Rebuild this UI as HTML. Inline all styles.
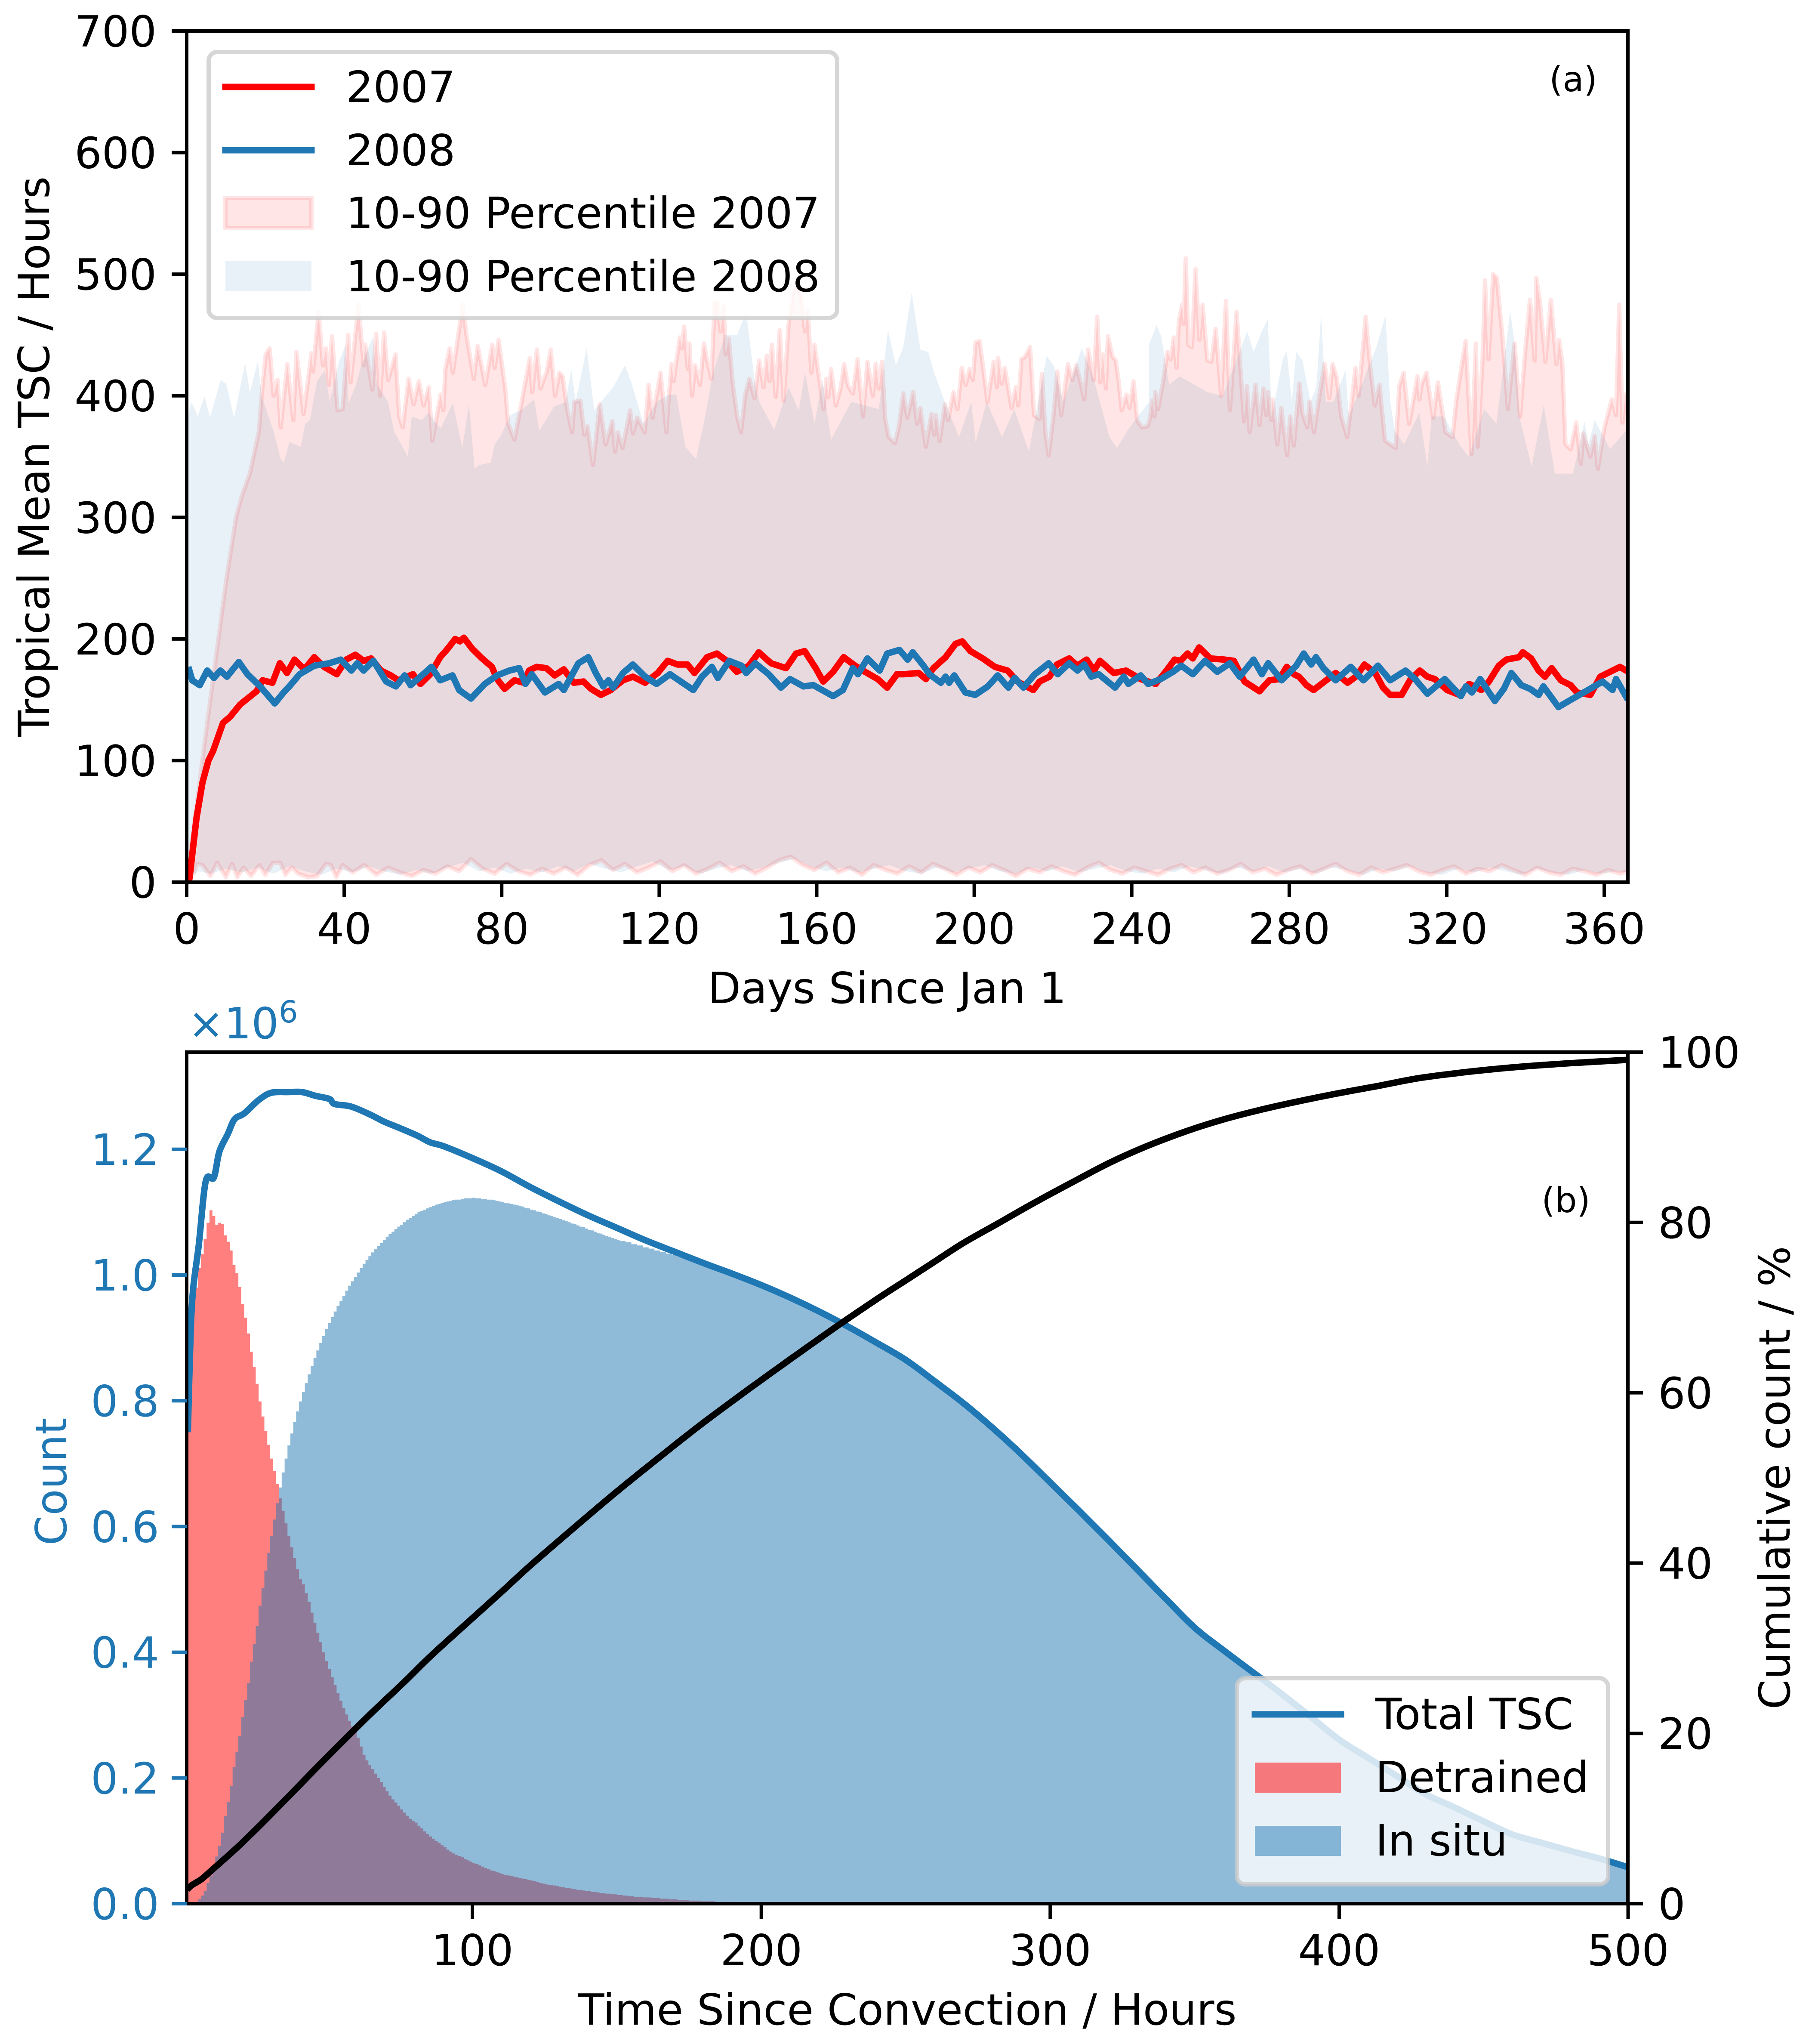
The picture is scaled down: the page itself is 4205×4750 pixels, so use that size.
<!DOCTYPE html>
<html lang="en">
<head>
<meta charset="utf-8">
<title>Tropical Mean TSC chart</title>
<style>
html,body{margin:0;padding:0;background:#fff;}
svg{display:block;}
text{font-family:"DejaVu Sans","Liberation Sans",sans-serif;font-size:100px;fill:#000;}
</style>
</head>
<body>
<svg id="chart" xmlns="http://www.w3.org/2000/svg" width="4205" height="4750" viewBox="0 0 4205 4750">
  <defs>
    <clipPath id="clipA"><rect x="434" y="72" width="3350" height="1978"/></clipPath>
    <clipPath id="clipB"><rect x="434" y="2445" width="3350" height="1979"/></clipPath>
  </defs>
  <rect x="0" y="0" width="4205" height="4750" fill="#fff"/>

  <g id="panelA">
    <g id="marksA" clip-path="url(#clipA)"></g>
    <rect x="434" y="72" width="3350" height="1978" fill="none" stroke="#000" stroke-width="8"/>
    <g id="ticksA"></g>
    <text x="2062" y="2331" text-anchor="middle">Days Since Jan 1</text>
    <text transform="translate(114,1061) rotate(-90)" text-anchor="middle">Tropical Mean TSC / Hours</text>
    <text x="3657" y="212" text-anchor="middle" style="font-size:80px">(a)</text>
    <g>
      <rect x="485" y="121" width="1461" height="618" rx="20" ry="20" fill="#fff" fill-opacity="0.8" stroke="#ccc" stroke-opacity="0.8" stroke-width="10"/>
      <line x1="524" y1="202" x2="724" y2="202" stroke="#ff0000" stroke-width="15" stroke-linecap="square"/>
      <text x="804" y="237">2007</text>
      <line x1="524" y1="349" x2="724" y2="349" stroke="#1f77b4" stroke-width="15" stroke-linecap="square"/>
      <text x="804" y="384">2008</text>
      <rect x="524" y="460" width="200" height="70" fill="#ff0000" fill-opacity="0.1" stroke="#ff0000" stroke-opacity="0.1" stroke-width="10"/>
      <text x="804" y="530">10-90 Percentile 2007</text>
      <rect x="524" y="607" width="200" height="70" fill="#1f77b4" fill-opacity="0.1"/>
      <text x="804" y="677">10-90 Percentile 2008</text>
    </g>
  </g>

  <g id="panelB">
    <g id="marksB" clip-path="url(#clipB)"></g>
    <rect x="434" y="2445" width="3350" height="1979" fill="none" stroke="#000" stroke-width="8"/>
    <g id="ticksB"></g>
    <text x="2109" y="4705" text-anchor="middle">Time Since Convection / Hours</text>
    <text transform="translate(154,3443) rotate(-90)" text-anchor="middle" style="fill:#1f77b4">Count</text>
    <text transform="translate(4160,3434) rotate(-90)" text-anchor="middle">Cumulative count / %</text>
    <text x="3640" y="2817" text-anchor="middle" style="font-size:80px">(b)</text>
    <text x="437" y="2413" style="fill:#1f77b4">×10<tspan dy="-37" style="font-size:70px;fill:#1f77b4">6</tspan></text>
    <g id="legendB">
      <rect x="2875" y="3900" width="863" height="479" rx="20" ry="20" fill="#fff" fill-opacity="0.8" stroke="#ccc" stroke-opacity="0.8" stroke-width="10"/>
      <line x1="2917" y1="3984" x2="3117" y2="3984" stroke="#1f77b4" stroke-width="15" stroke-linecap="square"/>
      <text x="3197" y="4018">Total TSC</text>
      <rect x="2917" y="4096" width="200" height="70" fill="#ff0000" fill-opacity="0.5"/>
      <text x="3197" y="4165">Detrained</text>
      <rect x="2917" y="4243" width="200" height="70" fill="#1f77b4" fill-opacity="0.5"/>
      <text x="3197" y="4312">In situ</text>
    </g>
  </g>
</svg>

<script>
// ---------- Panel (a) data: [day, hours] ----------
const p90_2007 = [[0,0],[2,50],[4.2,106],[7,175],[10,248],[12.5,300],[14,318],[16,336],[18.3,371],[19,401],[20,434],[21,439],[22,400],[23,413],[23.8,374],[25.5,426],[27,380],[27.8,436],[29.6,385],[31.6,435],[32,420],[33.4,469],[34.5,425],[35.3,439],[36,409],[36.8,449],[38.2,388],[39.5,389],[40.9,450],[41.5,411],[43.5,475],[44.8,425],[45.2,442],[47,405],[48,451],[49,400],[50,452],[51,413],[52.9,434],[53.8,383],[54.7,374],[56.2,414],[57.5,393],[58.8,412],[60,392],[61.3,407],[62.2,363],[64.3,401],[65,388],[65.5,422],[66.6,439],[67.4,419],[69.9,475],[70.9,449],[72.7,414],[73.7,441],[75.6,409],[77.4,442],[78,423],[79,446],[80.7,405],[81.4,377],[83,364],[84.5,389],[86.9,431],[87.5,403],[88.7,438],[89.6,406],[91.2,420],[92.2,438],[93.3,400],[94.4,419],[95.2,416],[96.4,388],[97.6,370],[98.2,395],[99.7,396],[100.7,368],[101.5,375],[102.9,343],[104.6,393],[106.1,360],[107.8,379],[108.5,354],[109.2,370],[110.4,357],[112.3,388],[113,369],[114.1,382],[116,370],[117,409],[118,382],[120,419],[121.5,370],[122,395],
[122.8,426],[123.3,412],[124.9,448],[125.4,439],[126,457],[126.9,422],[127.3,443],[128,400],[128.8,425],[130,409],[131,443],[131.8,429],[132.9,414],[133.7,477],[134.4,477],[135.2,453],[136,474],[136.5,434],[137.3,447],[138.3,410],[139.4,383],[140.4,370],[141.4,400],[142.5,414],[143.8,398],[145,429],[146.1,407],[146.9,433],[147.6,412],[148.2,442],[149.2,399],[150.2,454],[151.2,396],[152.4,458],[153.5,484],[154.3,492],[155.5,485],[156.6,453],[157.3,471],[158.2,419],[159,442],[160.1,416],[161.3,389],[162,414],[162.5,399],[163.2,422],[164.4,392],[165.6,406],[166.5,426],[167.5,408],[168.7,402],[169.9,430],[171.3,383],[172.4,428],[173.8,400],[174.5,426],[175.3,406],[176.1,428],[176.9,381],[177.8,366],[179.4,361],[180.4,375],[181.5,402],[182.5,382],[184,403],[185,377],[185.8,390],[187.2,358],[188.6,385],[189.3,368],[189.7,384],[190.7,363],[192,393],[192.8,380],[194.2,403],[195.2,389],[196.3,423],[197.3,409],[198.3,422],[199.1,413],[199.8,444],[200.8,445],[201.6,426],[202.8,395],[204.4,428],[205.2,407],[205.5,431],[206.4,410],[207.2,423],[208.9,390],[210,407],[210.6,392],[211.4,430],[212.3,432],[213.6,440],[214.6,384],[216,381],[216.6,418],[217.5,369],[218.3,351],[219.5,383],[220.5,420],[221.5,384],[223.2,426],[224.3,413],[225.3,425],[226.3,412],[227.3,397],[228.3,438],[229.7,413],[230.6,465],[231.4,411],[232,434],[232.8,406],[233.3,449],[234.5,432],[235.3,429],[236,413],[236.8,388],[238,401],[238.8,390],[239.8,412],[240.7,380],[241.9,374],[243.4,375],
[244,382],[244.5,396],[245.1,383],[245.3,403],[246,389],[247.2,410],[248.4,436],[249.2,430],[250,448],[250.7,423],[251.3,462],[252.1,475],[252.5,459],[253,513],[253.7,442],[254.6,440],[255.5,504],[256.5,446],[257.3,475],[258.5,429],[259.5,428],[260.6,455],[262,400],[263.2,478],[264.2,388],[265.9,469],[266.9,421],[267.8,379],[268.5,408],[269.2,370],[270.7,409],[271.7,376],[272.7,406],[273.4,384],[273.8,403],[274.7,380],[275,397],[276.2,360],[277.2,390],[278.7,351],[279.5,383],[280.4,359],[281.8,410],[282.6,385],[283.8,374],[284.4,395],[285.5,370],[286.9,401],[288.2,426],[289.4,398],[290.2,426],[291.2,416],[292.4,383],[293.9,366],[295.1,396],[296,423],[296.8,400],[298.6,465],[299.8,422],[300.9,392],[302.1,409],[303.5,363],[304.8,360],[306.2,357],[307.1,408],[308.2,419],[309.6,377],[310.6,395],[311.7,416],[312.2,397],[312.8,410],[314,419],[315.7,382],[316.9,411],[318.8,370],[320.6,366],[321.5,395],[323.1,429],[323.9,445],[325.4,352],[326.5,443],[327,358],[328.2,430],[328.8,495],[329.7,430],[330.9,500],[331.8,497],[333.2,450],[334.6,389],[336.3,443],[337.7,383],[339,437],[340.2,479],[341.4,429],[341.8,497],[342.7,478],[344.1,428],[345.5,479],[346.9,426],[347.6,446],[348.4,427],[349.2,360],[350.5,356],[351.9,378],[353.1,344],[353.7,369],[355.5,350],[356.6,367],[357.4,340],[359,373],[360.9,397],[362,384],[362.8,475],[363.6,378],[364.4,401],[365,395]];

const p10_2007 = [[0,0],[1.7,7],[2.7,15],[4,14],[6,5],[7.7,16],[9.9,4],[11.5,15],[12.8,4],[14.4,12],[16.3,5],[18.4,14],[19.9,6],[21.9,16],[23.7,16],[25,6],[26.6,12],[28.2,7],[30.8,4],[33,5],[35.3,15],[36.5,14],[37.9,4],[39.5,14],[42,8],[45,14],[48,6],[51,12],[54,8],[57,5],[60,10],[63,7],[66,13],[69,9],[72,19],[75,11],[78,7],[81,15],[84,9],[87,6],[90,11],[93,7],[96,12],[99,6],[102,14],[105,18],[108,10],[111,15],[114,8],[117,12],[120,17],[123,9],[126,14],[129,7],[132,11],[135,16],[138,9],[141,13],[144,7],[147,12],[150,18],[153,21],[156,14],[159,10],[162,16],[165,8],[168,12],[171,6],[174,14],[177,10],[180,7],[183,13],[186,8],[189,15],[192,11],[195,6],[198,12],[201,8],[204,14],[207,10],[210,5],[213,11],[216,8],[219,13],[222,9],[225,6],[228,12],[231,16],[234,10],[237,7],[240,12],[243,9],[246,6],[249,11],[252,14],[255,8],[258,12],[261,7],[264,10],[267,15],[270,8],[273,11],[276,6],[279,10],[282,13],[285,7],[288,11],[291,15],[294,9],[297,6],[300,12],[303,8],[306,11],[309,14],[312,9],[315,6],[318,10],[321,13],[324,7],[327,11],[330,9],[333,14],[336,10],[339,6],[342,12],[345,8],[348,6],[351,11],[354,9],[357,6],[360,10],[363,7],[365,9]];

const p90_2008 = [[0,380],[1.2,395],[2.8,383],[4.5,400],[5.9,382],[8.6,413],[10,410],[12,382],[14.8,427],[16,403],[18,428],[19,400],[20.7,383],[22,371],[23.8,348],[24.6,345],[26,362],[28.9,358],[30,377],[31.2,380],[33,412],[35,421],[36.2,395],[38.6,428],[40.2,442],[41,394],[42.9,409],[44,423],[47.2,449],[48.2,409],[51,395],[52.5,371],[55,356],[56,350],[57,383],[59.6,380],[61.2,386],[64.3,373],[67.4,394],[69.8,357],[71.5,393],[72.9,340],[74,343],[77,345],[78,360],[79.5,367],[82,384],[85,389],[88,397],[89.3,371],[93,391],[96,395],[97.4,422],[98.5,395],[101.3,439],[103.2,388],[108,407],[111,425],[112.7,410],[115.7,377],[119,395],[122,401],
[124,401],[126.3,358],[129,348],[131.3,383],[133.3,419],[136.4,450],[139.4,450],[141.7,469],[143.8,413],[145,395],[148.8,372],[152.4,407],[155,388],[156.6,419],[159,377],[161,413],[163.2,364],[168.3,395],[175.3,389],[177.6,454],[179.6,425],[181.5,440],[183.6,485],[185.8,438],[187.8,436],[189.3,419],[192,395],[195.6,366],[198.7,395],[199.8,362],[202.6,395],[206.5,366],[209.6,389],[213.3,354],[217.8,433],[219.7,424],[222,395],[226.7,439],[229.8,413],[233.7,366],[235.6,357],[238.4,372],[243.7,395],
[243.7,442],[245.6,458],[246.8,449],[248.8,409],[251.5,416],[258.5,403],[262.4,400],[268.6,453],[270.2,436],[272.3,453],[273.8,463],[274.8,383],[277.6,430],[278.6,437],[279.9,395],[281,436],[282.6,429],[284.6,395],[286.1,407],[287.3,467],[288.5,395],[290.4,395],[293.5,421],[294.3,383],[296.6,401],[301.3,440],[303.6,466],[304.8,395],[306,371],[308.3,360],[312.2,386],[314.2,342],[315.3,383],[318.4,383],[322.3,360],[324.7,350],[328.6,389],[331.7,377],[335.2,470],[336.3,443],[337.5,383],[340.6,342],[343.7,392],[346.5,336],[351.1,336],[354,379],[355,360],[356.6,380],[360.5,356],[364.4,371],[365,375]];

const p10_2008 = [[0,1],[3,9],[6,7],[10,11],[14,8],[18,12],[22,7],[26,13],[30,9],[34,6],[38,11],[42,8],[46,13],[50,9],[54,6],[58,10],[62,7],[66,12],[70,16],[74,9],[78,12],[82,7],[86,11],[90,8],[94,13],[98,9],[102,15],[106,11],[110,8],[114,13],[118,17],[122,10],[126,13],[130,7],[134,11],[138,14],[142,9],[146,12],[150,16],[154,19],[158,13],[162,9],[166,12],[170,8],[174,11],[178,14],[182,9],[186,7],[190,12],[194,8],[198,11],[202,14],[206,9],[210,7],[214,12],[218,9],[222,13],[226,8],[230,11],[234,14],[238,9],[242,7],[246,11],[250,8],[254,13],[258,10],[262,7],[266,12],[270,9],[274,13],[278,8],[282,11],[286,7],[290,12],[294,10],[298,6],[302,11],[306,9],[310,13],[314,8],[318,6],[322,11],[326,8],[330,12],[334,9],[338,6],[342,11],[346,8],[350,6],[354,10],[358,7],[362,9],[365,8]];

const mean_2007 = [[0,0],[0.7,3],[2.5,53],[4,82],[5.5,100],[6.7,108],[9.2,131],[11,136],[13.5,146],[15.4,151],[17.7,157],[19.2,166],[21.7,164],[23.6,180],[25.4,172],[27.3,183],[29.8,175],[32.3,185],[34.8,177],[38,171],[40.4,183],[42.7,187],[44.8,182],[46.7,184],[49.2,174],[51.7,170],[53.6,166],[57.3,171],[59.2,163],[61.7,171],[64.2,185],[66.1,192],[68,200],[69.2,198],[70.2,201],[72.3,192],[74.8,184],[77.3,177],[78.6,167],[80.5,159],[83,166],[85.4,164],[86.7,174],[88.6,177],[91.1,176],[93.2,170],[95.5,175],[98,164],[100.5,165],[102.4,159],[104.9,154],[107.4,158],[110.5,166],[113,169],[116.1,164],[119.3,172],[121.8,182],[124.3,179],[126.8,179],[128.6,172],[131.8,185],[134.3,188],[136.8,182],[139.3,173],[142.4,178],[144.9,189],[148,180],[151.8,176],[154.3,188],[156.5,190],[159.3,176],[161.2,165],[163.7,173],[166.4,185],[169.3,178],[171.8,173],[175,167],[177.4,160],[179.9,171],[181.6,171],[185.4,172],[187.2,167],[189.1,176],[192.2,185],[194.7,196],[196.4,198],[198.5,190],[201.6,184],[204.7,177],[207.9,174],[210.4,165],[214.4,158],[216,165],[218.5,169],[220.4,179],[223.5,184],[225.6,178],[227.9,183],[229.8,174],[231.3,182],[234.8,172],[237.9,174],[241.6,167],[245.4,163],[247.9,173],[250.2,183],[251.7,182],[253.5,188],[254.8,184],[256.4,193],[259.2,184],[262.9,183],[265.2,182],[267.9,165],[271.7,157],[274.2,166],[276.7,167],[278.6,177],[280.4,171],[281.7,169],[283.6,162],[285.4,158],[288.6,166],[291,172],[294,164],[296.1,169],[298.3,179],[301,172],[303,160],[304.8,154],[307.7,154],[309.8,166],[312.3,174],[314.2,169],[316.1,167],[319.2,158],[322.3,154],[324.8,163],[327.9,158],[329.8,165],[332.3,178],[334.2,183],[337.4,185],[338.4,189],[340.5,184],[342.4,174],[344,169],[345.7,176],[348,166],[350.5,162],[352.1,156],[355.5,154],[358,169],[360.5,173],[363,177],[364.5,174],[365,175]];

const mean_2008 = [[0.4,177],[1.4,166],[3.3,162],[5.2,174],[6.9,168],[8.5,174],[10.2,169],[13.2,181],[15.4,171],[18.6,161],[22.3,147],[24.8,157],[26,161],[28.6,171],[32.3,178],[36.1,180],[39,183],[41.7,174],[43.2,180],[44.8,174],[47.3,182],[50.5,165],[53,161],[55.2,170],[56.7,162],[59.2,169],[62,177],[64.2,166],[67.3,170],[69,158],[72,151],[75.5,163],[78.6,170],[81.7,174],[84.2,176],[85.8,163],[87.4,171],[90.7,156],[94.2,163],[95.5,158],[99.2,180],[101.7,185],[103.6,172],[105.5,161],[106.8,166],[108,160],[110.5,172],[113,179],[116.1,169],[119,163],[122.4,171],[128.3,158],[130.5,169],[133,177],[134.5,168],[137.4,182],[140.5,178],[141.7,172],[144,180],[147.4,171],[150.5,160],[152.8,167],[156.2,161],[158.7,162],[163.7,153],[166.2,158],[168.7,176],[170,171],[172.4,184],[175.5,174],[177.4,188],[180.5,191],[182.6,183],[183.9,189],[186.6,178],[188.1,171],[191,164],[192.2,169],[193.1,164],[194.4,170],[197.2,156],[199.7,154],[202.9,161],[205.4,170],[208.1,160],[209.7,168],[211.9,160],[214.8,171],[218.3,180],[220.6,171],[223.5,180],[225.6,174],[227.3,179],[229.1,169],[231,171],[235.1,160],[237.3,169],[238.5,163],[241.6,170],[243.5,163],[246.7,167],[249.8,173],[251.9,178],[254.8,171],[257.9,182],[261,173],[264.2,180],[266.7,169],[270.2,183],[272.3,171],[273.9,180],[277.3,166],[281,178],[282.9,188],[284.8,179],[286,185],[287.9,176],[291,166],[294.8,177],[298,166],[299.9,172],[301.7,178],[304.8,166],[308.7,174],[311.1,167],[314.2,155],[318.6,167],[322.7,153],[324,161],[325.5,156],[327.6,167],[331.3,149],[333.6,159],[335.5,172],[338,162],[340.2,159],[342.4,154],[343.6,161],[347.4,144],[351.1,151],[354.9,158],[358.6,165],[361.1,158],[362,167],[365,150]];

const daysTicks = [0,40,80,120,160,200,240,280,320,360];
const hoursTicks = [0,100,200,300,400,500,600,700];

// ---------- Panel (b) data ----------
// Detrained counts in thousands, one per hourly bin starting at hour 1
const detrainedHourly = [750,911,969,980,1011,1033,1057,1083,1103,1094,1080,1083,1081,1063,1053,1039,1016,1003,981,954,932,907,878,854,827,799,775,752,730,708,688,668,645,625,605,585,567,550,532,516,508,494,480,463,447,431,416,400,386,373,360,348,335,323,311,301,291,282,273,264,250,237,228,221,214,207,200,193,186,179,172,166,161,156,150,145,140,135,132,129,124,120,115,111,107,103,100,97,93,90,86,83,80,78,76,74,71,69,67,65,63,61,59,57,55,53,52,50,49,47,46,45,44,43,42,41,40,39,38,37,36,35,33,32,31,30,30,29,28,27,26,25,25,24,23,22,22,21,20,20,19,19,18,17,17,16,16,15,15,14,14,13,13,12,12,11,11,11,10,10,10,9,9,9,8,8,8,7,7,7,6,6,6,6,5,5,5,5,4,4,4,4,4,3,3,3,3,3,3,3,2,2,2,2,2,2,2,2,2,2,1,1,1,1,1,1,1,1,1,1,1,1,1,1,0];

// In situ counts in thousands, hourly bins from hour 1 to hour 150
const insituHourly = [0,0,0,0,7,13,20,33,44,57,75,92,113,139,162,187,217,241,267,297,324,351,385,413,442,474,502,530,558,585,611,637,662,686,708,729,748,766,783,799,814,828,842,855,868,880,892,903,914,924,933,942,951,959,967,975,983,990,997,1004,1011,1018,1024,1030,1036,1041,1046,1051,1056,1061,1065,1069,1073,1077,1080,1084,1088,1091,1094,1097,1100,1102,1104,1106,1108,1110,1112,1113,1115,1116,1117,1118,1119,1120,1120,1121,1122,1122,1122,1123,1122,1122,1121,1121,1120,1120,1119,1118,1117,1116,1115,1114,1113,1112,1111,1110,1109,1107,1106,1104,1103,1101,1100,1098,1097,1095,1094,1092,1091,1089,1087,1086,1084,1082,1081,1079,1077,1076,1074,1072,1071,1069,1067,1066,1064,1062,1061,1059,1057,1056];

// In situ counts in thousands, two-hour bins from hour 151 to hour 501
const insituTwoHourly = [1054,1052,1049,1047,1044,1042,1039,1037,1034,1032,1029,1027,1024,1021,1017,1014,1011,1007,1004,1001,997,994,991,987,983,979,975,971,967,963,958,954,950,945,941,936,932,927,922,917,912,907,902,897,891,886,881,876,871,865,858,852,845,838,831,824,817,810,803,796,788,781,773,765,757,749,740,732,723,715,706,697,688,679,670,661,652,643,634,625,616,607,597,588,579,570,560,551,541,532,523,513,504,494,485,476,467,457,448,439,431,425,418,410,403,395,388,381,374,367,361,354,348,341,333,326,319,312,304,297,290,283,276,268,261,255,249,243,238,232,226,220,215,209,203,197,192,186,180,174,170,166,161,157,153,148,144,140,135,131,127,123,118,114,110,107,105,102,100,97,95,92,89,87,84,82,79,77,74,71,69,66,63,61,58];

// Total TSC: [hour, thousands]
const totalTSC = [[1.5,750],[2.5,911],[3.4,980],[5.3,1048],[7.7,1149],[10.5,1155],[12.4,1196],[15.3,1224],[17.7,1248],[21,1257],[26.2,1279],[30.5,1290],[36.2,1291],[41,1291],[45.7,1285],[50.5,1280],[52.3,1272],[58,1268],[64.7,1255],[69.4,1244],[74.2,1235],[80.8,1222],[85.4,1211],[90,1205],[100,1186],[110,1165],[120,1140],[130,1117],[140,1095],[150,1075],[160,1055],[170,1037],[180,1019],[190,1002],[200,984],[210,964],[220,942],[230,918],[240,892],[250,865],[260,831],[270,796],[280,757],[290,715],[300,670],[310,625],[320,579],[330,532],[340,485],[350,439],[360,403],[372.8,359],[380,334],[390,298],[400,261],[410,232],[420,203],[430,174],[440,153],[450,131],[460,110],[470,97],[480,84],[490,72],[498.6,60],[500,58]];

// Cumulative count: [hour, percent]
const cumulative = [[1.3,1.7],[3,2.2],[6.3,2.9],[10,4],[15,5.5],[19.2,6.8],[25,8.7],[30,10.4],[38.1,13.2],[47,16.3],[57,19.7],[66,22.7],[76,25.9],[85,28.9],[95,32],[109.4,36.4],[120,39.7],[135,44.1],[150,48.4],[165,52.5],[180,56.5],[200,61.5],[224,67.3],[240,71],[250,73.2],[260,75.4],[270,77.6],[282,79.9],[293.9,82.2],[307,84.6],[320.5,87],[333,88.9],[347,90.7],[360,92.1],[373.7,93.3],[387,94.3],[400.2,95.2],[413,96],[426.8,96.9],[440,97.5],[453.4,98],[467,98.4],[480,98.7],[490,98.9],[500,99.1]];

const timeTicks = [100,200,300,400,500];
const countTicks = [0,200,400,600,800,1000,1200];
const countTickLabels = ['0.0','0.2','0.4','0.6','0.8','1.0','1.2'];
const percentTicks = [0,20,40,60,80,100];

// ---------- Axis functions ----------
const NS = 'http://www.w3.org/2000/svg';
const xDay = d => 434 + d * (3350 / 366);
const dayRead = d => d * 366 / 365;
const yHours = v => 2050 - v * (1978 / 700);
const xHour = h => 426.5 + h * 6.716;
const yCount = c => 4424 - c * 1.461;
const yPercent = p => 4424 - p * 19.79;
const BLUE = '#1f77b4';

function dayPts(series){ return series.map(p => xDay(dayRead(p[0])).toFixed(1) + ' ' + yHours(p[1]).toFixed(1)); }
function bandPath(upper, lower){ return 'M' + dayPts(upper).join('L') + 'L' + dayPts(lower.slice().reverse()).join('L') + 'Z'; }
function smoothPath(pts){
  let d = 'M' + pts[0][0].toFixed(1) + ' ' + pts[0][1].toFixed(1);
  for (let i = 0; i < pts.length - 1; i++) {
    const p0 = pts[Math.max(0, i - 1)], p1 = pts[i], p2 = pts[i + 1], p3 = pts[Math.min(pts.length - 1, i + 2)];
    const c1x = p1[0] + (p2[0] - p0[0]) / 6, c1y = p1[1] + (p2[1] - p0[1]) / 6;
    const c2x = p2[0] - (p3[0] - p1[0]) / 6, c2y = p2[1] - (p3[1] - p1[1]) / 6;
    d += 'C' + c1x.toFixed(1) + ' ' + c1y.toFixed(1) + ' ' + c2x.toFixed(1) + ' ' + c2y.toFixed(1) + ' ' + p2[0].toFixed(1) + ' ' + p2[1].toFixed(1);
  }
  return d;
}
function stepPath(edges, counts){
  let d = 'M' + xHour(edges[0]).toFixed(1) + ' ' + yCount(0);
  counts.forEach((c, i) => {
    const y = yCount(c).toFixed(1);
    d += 'L' + xHour(edges[i]).toFixed(1) + ' ' + y + 'L' + xHour(edges[i + 1]).toFixed(1) + ' ' + y;
  });
  return d + 'L' + xHour(edges[counts.length]).toFixed(1) + ' ' + yCount(0) + 'Z';
}
function tickText(parent, x, y, anchor, str, color){
  const t = document.createElementNS(NS, 'text');
  t.setAttribute('x', x);
  t.setAttribute('y', y);
  t.setAttribute('text-anchor', anchor);
  if (color) t.style.fill = color;
  t.textContent = str;
  parent.appendChild(t);
  return t;
}
function tickLine(parent, x1, y1, x2, y2, color){
  const l = document.createElementNS(NS, 'line');
  l.setAttribute('x1', x1);
  l.setAttribute('y1', y1);
  l.setAttribute('x2', x2);
  l.setAttribute('y2', y2);
  l.setAttribute('stroke', color);
  l.setAttribute('stroke-width', 8);
  parent.appendChild(l);
  return l;
}

// ---------- Panel (a) marks ----------
const marksA = document.getElementById('marksA');

const band07 = document.createElementNS(NS, 'path');


band07.setAttribute('d', bandPath(p90_2007, p10_2007));
band07.setAttribute('fill', '#ff0000');
band07.setAttribute('fill-opacity', '0.1');
band07.setAttribute('stroke', '#ff0000');
band07.setAttribute('stroke-opacity', '0.1');
band07.setAttribute('stroke-width', '10');
band07.setAttribute('stroke-linejoin', 'round');
marksA.appendChild(band07);

const band08 = document.createElementNS(NS, 'path');


band08.setAttribute('d', bandPath(p90_2008, p10_2008));
band08.setAttribute('fill', BLUE);
band08.setAttribute('fill-opacity', '0.1');
marksA.appendChild(band08);

const line07 = document.createElementNS(NS, 'path');


line07.setAttribute('d', 'M' + dayPts(mean_2007).join('L'));
line07.setAttribute('fill', 'none');
line07.setAttribute('stroke', '#ff0000');
line07.setAttribute('stroke-width', '15');
line07.setAttribute('stroke-linejoin', 'round');
marksA.appendChild(line07);

const line08 = document.createElementNS(NS, 'path');


line08.setAttribute('d', 'M' + dayPts(mean_2008).join('L'));
line08.setAttribute('fill', 'none');
line08.setAttribute('stroke', BLUE);
line08.setAttribute('stroke-width', '15');
line08.setAttribute('stroke-linejoin', 'round');
marksA.appendChild(line08);

const ticksA = document.getElementById('ticksA');
daysTicks.forEach(d => {
  const x = xDay(d);
  const mark = tickLine(ticksA, x, 2050, x, 2085, '#000');
  
  
  const label = tickText(ticksA, x, 2193, 'middle', String(d));
  
  
});
hoursTicks.forEach(v => {
  const y = yHours(v);
  const mark = tickLine(ticksA, 399, y, 434, y, '#000');
  
  
  const label = tickText(ticksA, 364, y + 36, 'end', String(v));
  
  
});

// ---------- Panel (b) marks ----------
const marksB = document.getElementById('marksB');

const detrainedEdges = detrainedHourly.map((c, i) => 1 + i);
detrainedEdges.push(1 + detrainedHourly.length);
const barsDetrained = document.createElementNS(NS, 'path');


barsDetrained.setAttribute('d', stepPath(detrainedEdges, detrainedHourly));
barsDetrained.setAttribute('fill', '#ff0000');
barsDetrained.setAttribute('fill-opacity', '0.5');
marksB.appendChild(barsDetrained);

const insituCounts = insituHourly.concat(insituTwoHourly);
const insituEdges = insituHourly.map((c, i) => 1 + i);
insituTwoHourly.forEach((c, i) => insituEdges.push(1 + insituHourly.length + i * 2));
insituEdges.push(1 + insituHourly.length + insituTwoHourly.length * 2);
const barsInsitu = document.createElementNS(NS, 'path');


barsInsitu.setAttribute('d', stepPath(insituEdges, insituCounts));
barsInsitu.setAttribute('fill', BLUE);
barsInsitu.setAttribute('fill-opacity', '0.5');
marksB.appendChild(barsInsitu);

const totalLine = document.createElementNS(NS, 'path');


totalLine.setAttribute('d', smoothPath(totalTSC.map(p => [xHour(p[0]), yCount(p[1])])));
totalLine.setAttribute('fill', 'none');
totalLine.setAttribute('stroke', BLUE);
totalLine.setAttribute('stroke-width', '15');
totalLine.setAttribute('stroke-linejoin', 'round');
marksB.appendChild(totalLine);

const cumulativeLine = document.createElementNS(NS, 'path');


cumulativeLine.setAttribute('d', smoothPath(cumulative.map(p => [xHour(p[0]), yPercent(p[1])])));
cumulativeLine.setAttribute('fill', 'none');
cumulativeLine.setAttribute('stroke', '#000');
cumulativeLine.setAttribute('stroke-width', '15');
cumulativeLine.setAttribute('stroke-linejoin', 'round');
marksB.appendChild(cumulativeLine);

const ticksB = document.getElementById('ticksB');
timeTicks.forEach(h => {
  const x = xHour(h);
  const mark = tickLine(ticksB, x, 4424, x, 4459, '#000');
  
  
  const label = tickText(ticksB, x, 4567, 'middle', String(h));
  
  
});
countTicks.forEach((c, i) => {
  const y = yCount(c);
  const mark = tickLine(ticksB, 399, y, 434, y, BLUE);
  
  
  const label = tickText(ticksB, 370, y + 36, 'end', countTickLabels[i], BLUE);
  
  
});
percentTicks.forEach(p => {
  const y = yPercent(p);
  const mark = tickLine(ticksB, 3784, y, 3819, y, '#000');
  
  
  const label = tickText(ticksB, 3854, y + 36, 'start', String(p));
  
  
});
</script>
</body>
</html>
